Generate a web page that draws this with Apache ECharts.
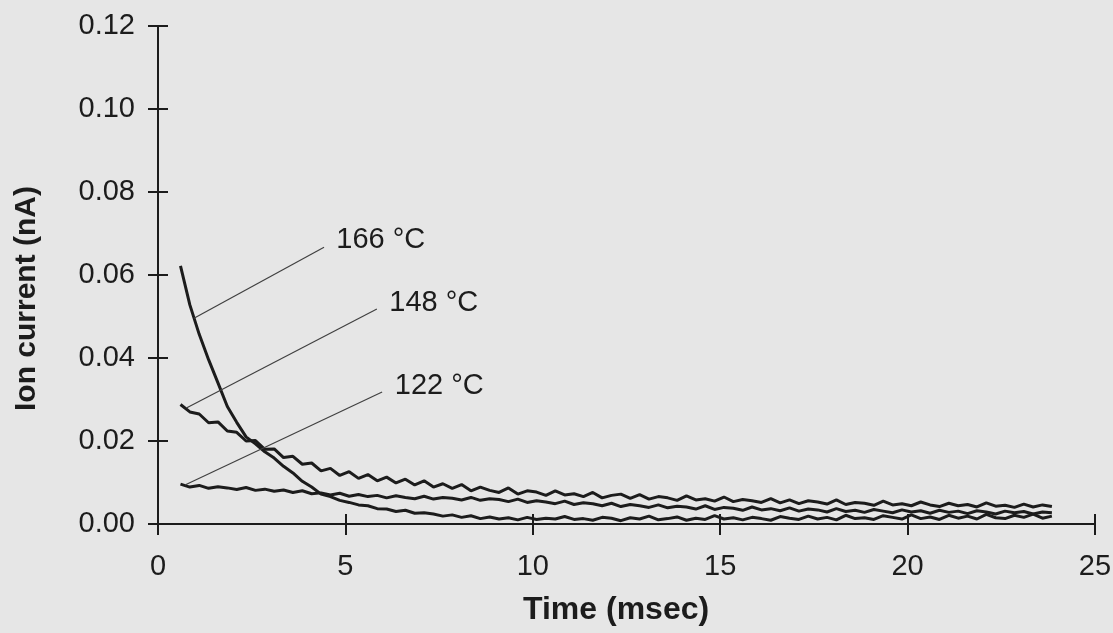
<!DOCTYPE html>
<html>
<head>
<meta charset="utf-8">
<script src="https://cdn.jsdelivr.net/npm/echarts@6/dist/echarts.min.js"></script>
<style>html,body{margin:0;padding:0;background:#e6e6e6;}#chart{width:1113px;height:633px;}</style>
</head>
<body>
<div id="chart"></div>
<script>
// ---- data ----
const timeMs = [
0.60,0.85,1.10,1.35,1.60,1.85,2.10,2.35,2.60,2.85,
3.10,3.35,3.60,3.85,4.10,4.35,4.60,4.85,5.10,5.35,
5.60,5.85,6.10,6.35,6.60,6.85,7.10,7.35,7.60,7.85,
8.10,8.35,8.60,8.85,9.10,9.35,9.60,9.85,10.10,10.35,
10.60,10.85,11.10,11.35,11.60,11.85,12.10,12.35,12.60,12.85,
13.10,13.35,13.60,13.85,14.10,14.35,14.60,14.85,15.10,15.35,
15.60,15.85,16.10,16.35,16.60,16.85,17.10,17.35,17.60,17.85,
18.10,18.35,18.60,18.85,19.10,19.35,19.60,19.85,20.10,20.35,
20.60,20.85,21.10,21.35,21.60,21.85,22.10,22.35,22.60,22.85,
23.10,23.35,23.60,23.85];

const current166 = [
0.0622,0.0528,0.0457,0.0396,0.0340,0.0283,0.0245,0.0210,0.0193,0.0174,
0.0159,0.0139,0.0123,0.0103,0.0089,0.0072,0.0066,0.0057,0.0052,0.0046,
0.0044,0.0037,0.0036,0.0030,0.0033,0.0026,0.0027,0.0024,0.0019,0.0022,
0.0016,0.0020,0.0013,0.0017,0.0012,0.0015,0.0010,0.0016,0.0011,0.0014,
0.0012,0.0018,0.0011,0.0013,0.0009,0.0016,0.0014,0.0008,0.0015,0.0012,
0.0019,0.0010,0.0013,0.0017,0.0009,0.0014,0.0011,0.0020,0.0012,0.0015,
0.0010,0.0016,0.0013,0.0009,0.0018,0.0014,0.0011,0.0019,0.0012,0.0016,
0.0010,0.0021,0.0013,0.0015,0.0011,0.0020,0.0016,0.0012,0.0022,0.0013,
0.0017,0.0011,0.0021,0.0014,0.0019,0.0012,0.0023,0.0015,0.0013,0.0021,
0.0016,0.0024,0.0014,0.0019];

const current148 = [
0.0288,0.0270,0.0265,0.0244,0.0246,0.0224,0.0221,0.0200,0.0201,0.0180,
0.0181,0.0160,0.0163,0.0144,0.0147,0.0128,0.0134,0.0117,0.0126,0.0110,
0.0119,0.0104,0.0113,0.0099,0.0108,0.0094,0.0104,0.0089,0.0097,0.0086,
0.0095,0.0080,0.0089,0.0081,0.0076,0.0087,0.0072,0.0080,0.0077,0.0069,
0.0080,0.0070,0.0073,0.0066,0.0076,0.0063,0.0069,0.0072,0.0062,0.0071,
0.0060,0.0066,0.0063,0.0057,0.0068,0.0058,0.0061,0.0055,0.0065,0.0054,
0.0059,0.0056,0.0052,0.0061,0.0051,0.0058,0.0049,0.0056,0.0053,0.0048,
0.0058,0.0047,0.0052,0.0050,0.0045,0.0055,0.0046,0.0049,0.0044,0.0053,
0.0046,0.0042,0.0050,0.0044,0.0047,0.0041,0.0051,0.0043,0.0045,0.0040,
0.0048,0.0041,0.0046,0.0042];

const current122 = [
0.0096,0.0089,0.0093,0.0086,0.0090,0.0087,0.0083,0.0088,0.0081,0.0084,
0.0079,0.0082,0.0076,0.0080,0.0073,0.0075,0.0070,0.0074,0.0067,0.0071,
0.0066,0.0069,0.0063,0.0068,0.0064,0.0061,0.0067,0.0060,0.0064,0.0062,
0.0058,0.0064,0.0057,0.0061,0.0059,0.0054,0.0060,0.0052,0.0056,0.0053,
0.0049,0.0055,0.0047,0.0051,0.0049,0.0044,0.0050,0.0042,0.0047,0.0044,
0.0040,0.0046,0.0039,0.0043,0.0041,0.0036,0.0044,0.0035,0.0040,0.0038,
0.0033,0.0041,0.0034,0.0037,0.0032,0.0039,0.0031,0.0036,0.0034,0.0029,
0.0037,0.0030,0.0033,0.0028,0.0035,0.0031,0.0027,0.0034,0.0029,0.0032,
0.0026,0.0033,0.0028,0.0031,0.0025,0.0032,0.0029,0.0024,0.0031,0.0027,
0.0030,0.0024,0.0029,0.0027];

const xTicks = [0, 5, 10, 15, 20, 25];
const yTicks = [0.00, 0.02, 0.04, 0.06, 0.08, 0.10, 0.12];
const seriesNames = ['166 °C', '148 °C', '122 °C'];
// leader lines: [startTime, startCurrent, endTime, endCurrent]
const leader166 = [0.96, 0.0496, 4.43, 0.0667];
const leader148 = [0.77, 0.0280, 5.84, 0.0518];
const leader122 = [0.72, 0.0094, 5.98, 0.0318];

// ---- chart ----
const FONT = '"Liberation Sans", Arial, Helvetica, sans-serif';
const INK = '#1c1c1c';
const chart = echarts.init(document.getElementById('chart'), null, {renderer: 'canvas'});

function pairs(vals) { return timeMs.map((t, i) => [t, vals[i]]); }
function leader(arr, name) {
  return {
    silent: true,
    symbol: ['none', 'none'],
    lineStyle: {color: '#404040', width: 1.2, type: 'solid'},
    label: {show: true, position: 'end', distance: 14, formatter: name,
            fontFamily: FONT, fontSize: 29, color: INK},
    emphasis: {disabled: true},
    data: [[{coord: [arr[0], arr[1]]}, {coord: [arr[2], arr[3]]}]]
  };
}

const xMin = xTicks[0], xMax = xTicks[xTicks.length - 1];
const yMin = yTicks[0], yMax = yTicks[yTicks.length - 1];

const baseX = {type: 'value', min: xMin, max: xMax, interval: 5, position: 'bottom', splitLine: {show: false}};
const baseY = {type: 'value', min: yMin, max: yMax, interval: 0.02, position: 'left', splitLine: {show: false}};

chart.setOption({
  animation: false,
  backgroundColor: '#e6e6e6',
  grid: {left: 158, right: 18, top: 26, bottom: 109, containLabel: false, outerBoundsMode: 'none'},
  xAxis: [
    Object.assign({}, baseX, {
      axisLine: {show: true, lineStyle: {color: INK, width: 2}},
      axisTick: {show: true, inside: false, length: 11, lineStyle: {color: INK, width: 2}},
      axisLabel: {show: true, margin: 28, fontFamily: FONT, fontSize: 29, color: INK}
    }),
    Object.assign({}, baseX, {
      axisLine: {show: false},
      axisTick: {show: true, inside: true, length: 10, lineStyle: {color: INK, width: 2}},
      axisLabel: {show: false}
    })
  ],
  yAxis: [
    Object.assign({}, baseY, {
      axisLine: {show: true, lineStyle: {color: INK, width: 2}},
      axisTick: {show: true, inside: false, length: 10, lineStyle: {color: INK, width: 2}},
      axisLabel: {show: true, margin: 23, fontFamily: FONT, fontSize: 29, color: INK,
                  formatter: v => v.toFixed(2)}
    }),
    Object.assign({}, baseY, {
      axisLine: {show: false},
      axisTick: {show: true, inside: true, length: 10, lineStyle: {color: INK, width: 2}},
      axisLabel: {show: false}
    })
  ],
  graphic: [
    {type: 'text', left: 523, top: 594,
     style: {text: 'Time (msec)', font: 'bold 32px ' + FONT, fill: INK}},
    {type: 'text', x: 12, y: 411, rotation: Math.PI / 2,
     style: {text: 'Ion current (nA)', font: 'bold 30px ' + FONT, fill: INK}}
  ],
  series: [
    {name: seriesNames[0], type: 'line', data: pairs(current166), showSymbol: false, symbol: 'none',
     lineStyle: {color: INK, width: 3}, markLine: leader(leader166, seriesNames[0])},
    {name: seriesNames[1], type: 'line', data: pairs(current148), showSymbol: false, symbol: 'none',
     lineStyle: {color: INK, width: 3}, markLine: leader(leader148, seriesNames[1])},
    {name: seriesNames[2], type: 'line', data: pairs(current122), showSymbol: false, symbol: 'none',
     lineStyle: {color: INK, width: 3}, markLine: leader(leader122, seriesNames[2])}
  ]
});
</script>
</body>
</html>
